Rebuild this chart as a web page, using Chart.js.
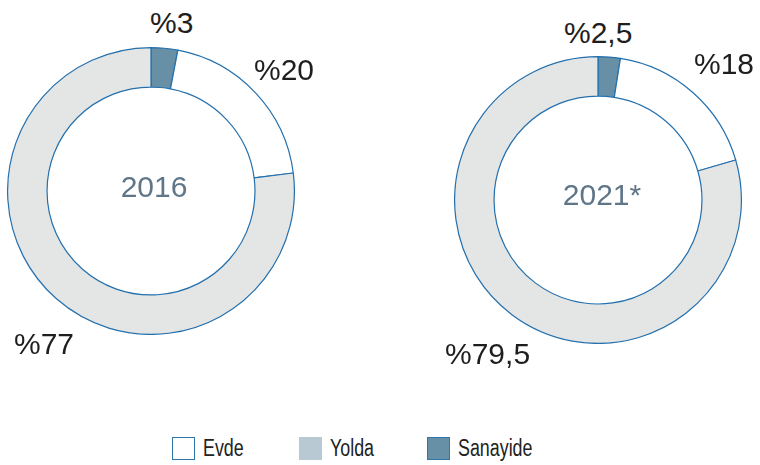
<!DOCTYPE html>
<html>
<head>
<meta charset="utf-8">
<script src="https://cdn.jsdelivr.net/npm/chart.js@4"></script>
<style>
  html, body { margin: 0; padding: 0; background: #fff; }
  #stage { position: relative; width: 760px; height: 465px; overflow: hidden; font-family: "Liberation Sans", Arial, sans-serif; }
  canvas { position: absolute; }
  .pct { position: absolute; font-size: 30px; line-height: 30px; color: #1e1e1e; white-space: nowrap; }
  .year { position: absolute; font-size: 30px; line-height: 30px; color: #5f7689; white-space: nowrap; transform: translateX(-50%); }
  .legend { position: absolute; top: 437px; left: 0; width: 760px; height: 24px; font-size: 23.5px; color: #222; }
  .legend .item { position: absolute; top: 0; display: flex; align-items: center; height: 23px; }
  .legend .box { width: 23px; height: 23px; box-sizing: border-box; margin-right: 8px; flex: none; }
  .legend span { display: inline-block; transform: scaleX(0.76); transform-origin: left center; white-space: nowrap; }
</style>
</head>
<body>
<div id="stage">
  <canvas id="c2016" width="288" height="288" style="left:7px;top:47px"></canvas>
  <canvas id="c2021" width="288" height="288" style="left:454px;top:56px"></canvas>
  <div class="legend" id="legend"></div>
</div>
<script>
// categories, in drawing order (clockwise from 12 o'clock)
const categories = ['Sanayide', 'Evde', 'Yolda'];
const years = ['2016', '2021*'];
const values2016 = [3, 20, 77];
const values2021 = [2.5, 18, 79.5];
const valueLabels2016 = ['%3', '%20', '%77'];
const valueLabels2021 = ['%2,5', '%18', '%79,5'];
const legendOrder = ['Evde', 'Yolda', 'Sanayide'];

// styling
const ringColors = { Sanayide: '#678fa5', Evde: '#ffffff', Yolda: '#e4e6e6' };
const legendColors = { Sanayide: '#678fa5', Evde: '#ffffff', Yolda: '#b8c9d3' };
const legendBorders = { Sanayide: '#2f76ab', Evde: '#2f76ab', Yolda: 'transparent' };
const edge = '#2470ad';

const stage = document.getElementById('stage');

function addText(cls, text, left, top) {
    const d = document.createElement('div');
    d.className = cls;
    d.textContent = text;
    d.style.left = left + 'px';
    d.style.top = top + 'px';
    stage.appendChild(d);
}

function makeRing(id, values) {
    return new Chart(document.getElementById(id), {
        type: 'doughnut',
        data: {
            labels: categories,
            datasets: [{
                data: values,
                backgroundColor: categories.map(c => ringColors[c]),
                borderColor: edge,
                borderWidth: 1.2,
            }],
        },
        options: {
            responsive: false,
            animation: false,
            cutout: '72.5%',
            layout: { padding: 0 },
            plugins: { legend: { display: false }, tooltip: { enabled: false } },
        },
    });
}

makeRing('c2016', values2016);
makeRing('c2021', values2021);

// value labels (Sanayide, Evde, Yolda)
const pos2016 = [[150, 8], [254, 55], [14, 329]];
const pos2021 = [[564, 18], [694, 49], [445, 339]];
valueLabels2016.forEach((t, i) => addText('pct', t, pos2016[i][0], pos2016[i][1]));
valueLabels2021.forEach((t, i) => addText('pct', t, pos2021[i][0], pos2021[i][1]));

// years in the hole
addText('year', years[0], 154, 172);
addText('year', years[1], 602, 180);

// shared legend
const legendX = [172, 299, 427];
const legend = document.getElementById('legend');
legendOrder.forEach((c, i) => {
    const it = document.createElement('div');
    it.className = 'item';
    it.style.left = legendX[i] + 'px';
    const b = document.createElement('div');
    b.className = 'box';
    b.style.background = legendColors[c];
    b.style.border = legendBorders[c] === 'transparent' ? 'none' : `1.5px solid ${legendBorders[c]}`;
    const s = document.createElement('span');
    s.textContent = c;
    it.appendChild(b);
    it.appendChild(s);
    legend.appendChild(it);
});
</script>
</body>
</html>
